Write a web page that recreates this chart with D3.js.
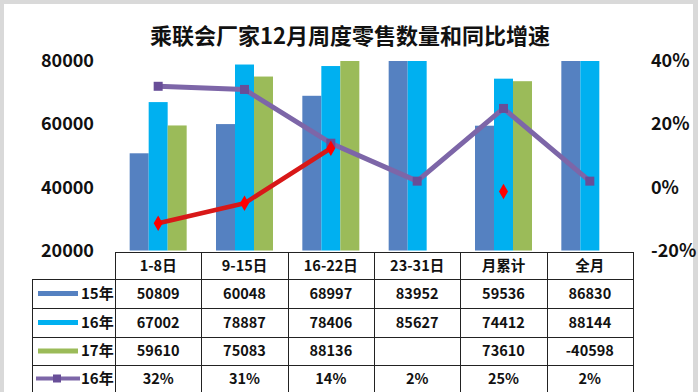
<!DOCTYPE html>
<html><head><meta charset="utf-8">
<script src="https://cdn.jsdelivr.net/npm/d3@7/dist/d3.min.js"></script>
<style>
html,body{margin:0;padding:0;background:#fff;}
svg{display:block;}
text{font-family:"Noto Sans CJK SC","Noto Sans",sans-serif;font-weight:bold;fill:#111;}
</style></head>
<body>
<script>
const title = "乘联会厂家12月周度零售数量和同比增速";
const categories = ["1-8日","9-15日","16-22日","23-31日","月累计","全月"];
const barSeries = ["15年","16年","17年"];
const s15 = [50809,60048,68997,83952,59536,86830];
const s16 = [67002,78887,78406,85627,74412,88144];
const s17 = [59610,75083,88136,null,73610,-40598];
const yoy16 = [32,31,14,2,25,2];
const yoy17 = [-11.3,-5.0,12.4,null,-1.3,null];
const yoy16Labels = ["32%","31%","14%","2%","25%","2%"];
const leftTicks = [20000,40000,60000,80000];
const rightTicks = [-20,0,20,40];

const W = 698, H = 392;
const colors = {"15年":"#5581c1","16年":"#00b0f0","17年":"#9bbb59"};
const purple = "#7d66a8", purpleMark = "#684e98", red = "#d81818", redMark = "#ff0000";

const svg = d3.select("body").append("svg").attr("width",W).attr("height",H);
svg.append("rect").attr("width",W).attr("height",H).attr("fill","#d9d9d9");
svg.append("rect").attr("x",4).attr("y",4).attr("width",W-9).attr("height",H-4).attr("fill","#fff");

svg.append("text").attr("x",350).attr("y",44).attr("text-anchor","middle")
  .style("font-size","22px").text(title);

const x = d3.scaleBand().domain(categories).range([115,633]).padding(0);
const bw = x.bandwidth();
const xs = d3.scaleBand().domain(barSeries).range([bw/2-28.5, bw/2+28.5]).padding(0);
const yL = d3.scaleLinear().domain([20000,80000]).range([250.7,61]);
const yR = d3.scaleLinear().domain([-20,40]).range([250.7,61]);

svg.append("defs").append("clipPath").attr("id","plot")
  .append("rect").attr("x",100).attr("y",61).attr("width",550).attr("height",250.7-61);

const seriesVals = {"15年":s15,"16年":s16,"17年":s17};
const bars = [];
categories.forEach((c,i)=>barSeries.forEach(s=>{
  const v = seriesVals[s][i];
  if (v!=null && v>20000) bars.push({c,s,v});
}));
const plot = svg.append("g").attr("clip-path","url(#plot)");
plot.selectAll("rect.bar").data(bars).join("rect").attr("class","bar")
  .attr("x",d=>x(d.c)+xs(d.s)).attr("width",xs.bandwidth())
  .attr("y",d=>yL(d.v)).attr("height",d=>yL(20000)-yL(d.v))
  .attr("fill",d=>colors[d.s]);

// axes
const axL = svg.append("g").attr("transform","translate(94,0)")
  .call(d3.axisLeft(yL).tickValues(leftTicks).tickSize(0).tickPadding(0).tickFormat(d3.format("d")));
axL.select(".domain").remove();
axL.selectAll("text").style("font-size","18px").style("font-family",'"Noto Sans CJK SC",sans-serif').attr("fill","#111");
const axR = svg.append("g").attr("transform","translate(651,0)")
  .call(d3.axisRight(yR).tickValues(rightTicks).tickSize(0).tickPadding(0).tickFormat(d=>d+"%"));
axR.select(".domain").remove();
axR.selectAll("text").style("font-size","18px").style("font-family",'"Noto Sans CJK SC",sans-serif').attr("fill","#111");

// purple line
const cx = c=>x(c)+bw/2;
const l16 = d3.line().x((d,i)=>cx(categories[i])).y(d=>yR(d));
svg.append("path").datum(yoy16).attr("d",l16).attr("fill","none")
  .attr("stroke",purple).attr("stroke-width",5).attr("stroke-linejoin","round");
svg.selectAll("rect.m16").data(yoy16).join("rect").attr("class","m16")
  .attr("x",(d,i)=>cx(categories[i])-4.5).attr("y",d=>yR(d)-4.5)
  .attr("width",9).attr("height",9).attr("fill",purpleMark);

// red line
const l17 = d3.line().defined(d=>d!=null).x((d,i)=>cx(categories[i])).y(d=>yR(d));
svg.append("path").datum(yoy17).attr("d",l17).attr("fill","none")
  .attr("stroke",red).attr("stroke-width",4.5).attr("stroke-linejoin","round");
const redPts = yoy17.map((v,i)=>({v,c:categories[i]})).filter(d=>d.v!=null);
svg.selectAll("path.m17").data(redPts).join("path").attr("class","m17")
  .attr("d",d3.symbol(d3.symbolDiamond,70)())
  .attr("transform",d=>`translate(${cx(d.c)},${yR(d.v)})`).attr("fill",redMark);

// table
const rowY = [252,279,308,337,365,392];
const tb = svg.append("g");
const lineAttr = s=>s.attr("stroke","#222").attr("stroke-width",1).attr("shape-rendering","crispEdges");
// horizontal lines
tb.append("line").attr("x1",115).attr("x2",633).attr("y1",252.5).attr("y2",252.5).call(lineAttr);
rowY.slice(1).forEach(y=>tb.append("line").attr("x1",32).attr("x2",633).attr("y1",y+0.5).attr("y2",y+0.5).call(lineAttr));
// vertical lines
tb.append("line").attr("x1",32.5).attr("x2",32.5).attr("y1",279).attr("y2",392).call(lineAttr);
categories.forEach(c=>tb.append("line").attr("x1",x(c)+0.5).attr("x2",x(c)+0.5).attr("y1",252).attr("y2",392).call(lineAttr));
tb.append("line").attr("x1",633.5).attr("x2",633.5).attr("y1",252).attr("y2",392).call(lineAttr);

const rowMid = i=>(rowY[i]+rowY[i+1])/2;
tb.selectAll("text.hd").data(categories).join("text").attr("class","hd")
  .attr("x",c=>cx(c)).attr("y",rowMid(0)).attr("dy","0.36em").attr("text-anchor","middle")
  .style("font-size","14.5px").text(c=>c);
const rows = [s15,s16,s17,yoy16Labels];
rows.forEach((arr,r)=>{
  tb.selectAll("text.r"+r).data(arr).join("text").attr("class","r"+r)
    .attr("x",(d,i)=>cx(categories[i])).attr("y",rowMid(r+1)).attr("dy","0.36em")
    .attr("text-anchor","middle").style("font-size","14.5px")
    .text(d=>d==null?"":d);
});
// legend cells
const legNames = ["15年","16年","17年","16年"];
legNames.forEach((n,r)=>{
  const ym = rowMid(r+1);
  if (r<3) {
    tb.append("rect").attr("x",38).attr("y",ym-2.5).attr("width",40).attr("height",5).attr("fill",colors[n]);
  } else {
    tb.append("line").attr("x1",36).attr("x2",80).attr("y1",ym).attr("y2",ym).attr("stroke",purple).attr("stroke-width",4);
    tb.append("rect").attr("x",53).attr("y",ym-4).attr("width",8).attr("height",8).attr("fill",purpleMark);
  }
  tb.append("text").attr("x",81).attr("y",ym).attr("dy","0.36em").style("font-size","15px").text(n);
});
</script>
</body></html>
